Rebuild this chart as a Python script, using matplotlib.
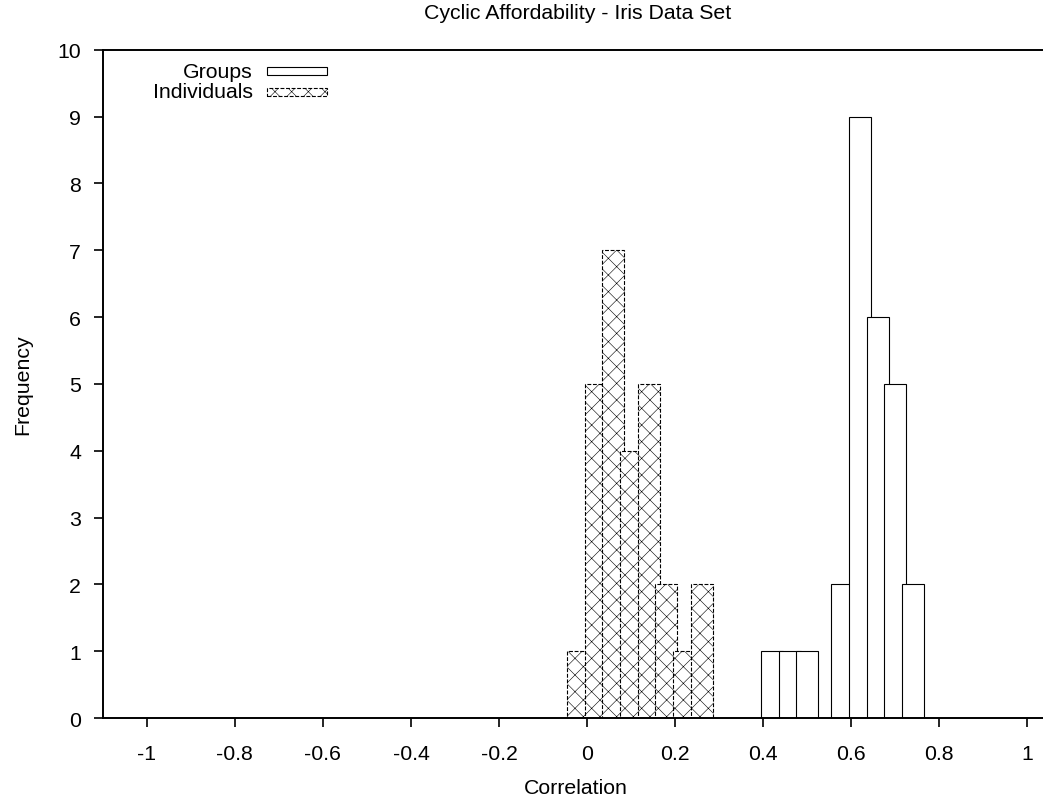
import matplotlib
matplotlib.use('Agg')
import matplotlib.pyplot as plt
from matplotlib.patches import Rectangle

# histogram data (bin centres, counts)
groups_x = [0.42, 0.46, 0.50, 0.58, 0.62, 0.66, 0.70, 0.74]
groups_y = [1, 1, 1, 2, 9, 6, 5, 2]
indiv_x = [-0.02, 0.02, 0.06, 0.10, 0.14, 0.18, 0.22, 0.26]
indiv_y = [1, 5, 7, 4, 5, 2, 1, 2]
box_width = 0.05

xticks = [-1, -0.8, -0.6, -0.4, -0.2, 0, 0.2, 0.4, 0.6, 0.8, 1]
xtick_labels = ['-1', '-0.8', '-0.6', '-0.4', '-0.2', '0', '0.2', '0.4', '0.6', '0.8', '1']
yticks = list(range(0, 11))

plt.rcParams['font.family'] = ['Liberation Sans', 'DejaVu Sans']
plt.rcParams['hatch.linewidth'] = 0.4
fs = 15.3

fig = plt.figure(figsize=(10.43, 8.03), dpi=100)
ax = fig.add_axes([0.0985, 0.1046, 0.9076, 0.8323])

dash = (0, (3.5, 1.5))
ax.bar(indiv_x, indiv_y, width=box_width, facecolor='white', edgecolor='black',
       hatch='xx', linewidth=0.8, linestyle=dash)
ax.bar(groups_x, groups_y, width=box_width, facecolor='white', edgecolor='black',
       linewidth=0.8)

ax.set_xlim(-1.1, 1.05)
ax.set_ylim(0, 10)
ax.set_xticks(xticks)
ax.set_xticklabels(xtick_labels)
ax.set_yticks(yticks)
ax.tick_params(axis='x', direction='out', length=6.5, width=1.2, pad=12, labelsize=fs)
ax.tick_params(axis='y', direction='out', length=6.5, width=1.2, pad=9, labelsize=fs)
for s in ax.spines.values():
    s.set_linewidth(1.4)

ax.set_xlabel('Correlation', fontsize=fs, labelpad=11)
ax.set_ylabel('Frequency', fontsize=fs, labelpad=18)
fig.text(0.5539, 0.983, 'Cyclic Affordability - Iris Data Set', fontsize=fs,
         ha='center', va='center')

# key, top left like gnuplot
ax.text(0.1588, 0.968, 'Groups', transform=ax.transAxes, ha='right', va='center', fontsize=fs)
ax.text(0.1588, 0.9367, 'Individuals', transform=ax.transAxes, ha='right', va='center', fontsize=fs)
ax.add_patch(Rectangle((0.1736, 0.962), 0.0634, 0.012, transform=ax.transAxes,
                       facecolor='white', edgecolor='black', linewidth=0.8, clip_on=False))
ax.add_patch(Rectangle((0.1736, 0.9307), 0.0634, 0.012, transform=ax.transAxes,
                       facecolor='white', edgecolor='black', linewidth=0.8, hatch='xx',
                       linestyle=dash, clip_on=False))

fig.savefig('out.png', dpi=100)
